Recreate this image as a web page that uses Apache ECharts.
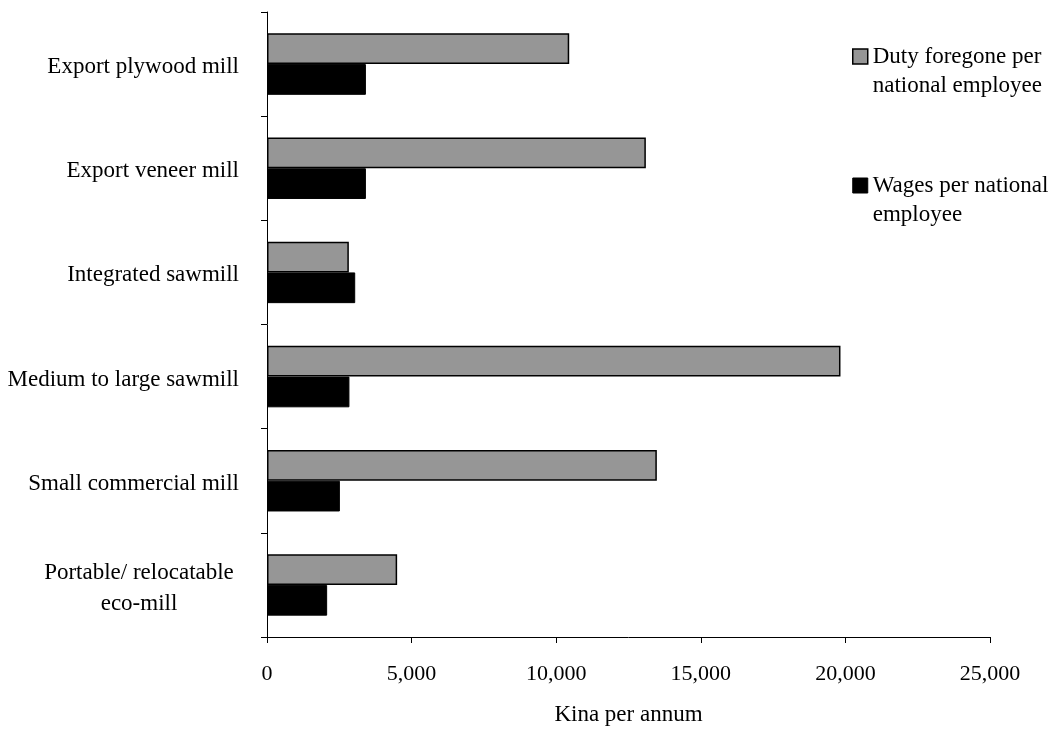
<!DOCTYPE html>
<html>
<head>
<meta charset="utf-8">
<script src="https://cdn.jsdelivr.net/npm/echarts@6/dist/echarts.min.js"></script>
<style>
  html, body { margin: 0; padding: 0; background: #fff; }
  #chart { width: 1054px; height: 731px; }
</style>
</head>
<body>
<div id="chart"></div>
<script>
// Mill types, listed top to bottom
const categories = [
  'Export plywood mill',
  'Export veneer mill',
  'Integrated sawmill',
  'Medium to large sawmill',
  'Small commercial mill',
  'Portable/ relocatable\neco-mill'
];
// Kina per annum per national employee
const dutyForegone = [10450, 13100, 2830, 19830, 13480, 4500];
const wages = [3420, 3420, 3050, 2850, 2520, 2080];
const xTicks = [0, 5000, 10000, 15000, 20000, 25000];

const seriesNames = ['Duty foregone per\nnational employee', 'Wages per national\nemployee'];
const serif = '"Liberation Serif", "DejaVu Serif", serif';
const FS = 23;

const chart = echarts.init(document.getElementById('chart'), null, { renderer: 'canvas' });

chart.setOption({
  animation: false,
  backgroundColor: '#ffffff',
  textStyle: { fontFamily: serif, color: '#000' },
  grid: { left: 267, right: 64, top: 12, bottom: 91, containLabel: false },
  legend: {
    orient: 'vertical',
    left: 852,
    top: 13,
    padding: 0,
    itemWidth: 15,
    itemHeight: 15,
    itemGap: 42,
    icon: 'rect',
    selectedMode: false,
    data: [
      { name: seriesNames[0], itemStyle: { color: '#969696', borderColor: '#000', borderWidth: 1.5 } },
      { name: seriesNames[1], itemStyle: { color: '#000', borderColor: '#000', borderWidth: 1 } }
    ],
    // a blank first line keeps the swatch level with the first line of each name
    formatter: name => ' \n' + name,
    textStyle: {
      fontFamily: serif,
      fontSize: FS,
      lineHeight: 29,
      color: '#000'
    }
  },
  xAxis: {
    type: 'value',
    min: xTicks[0],
    max: xTicks[xTicks.length - 1],
    interval: xTicks[1] - xTicks[0],
    name: 'Kina per annum',
    nameLocation: 'middle',
    nameGap: 66,
    nameTextStyle: { fontFamily: serif, fontSize: FS, color: '#000' },
    axisLine: { show: true, lineStyle: { color: '#000', width: 1 } },
    axisTick: { show: true, length: 6, lineStyle: { color: '#000' } },
    axisLabel: {
      margin: 26,
      fontFamily: serif,
      fontSize: 22,
      color: '#000',
      formatter: v => v.toLocaleString('en-US')
    },
    splitLine: { show: false }
  },
  yAxis: {
    type: 'category',
    inverse: true,
    data: categories,
    axisLine: { show: true, lineStyle: { color: '#000', width: 1 } },
    axisTick: { show: true, length: 6, lineStyle: { color: '#000' } },
    axisLabel: {
      margin: 28,
      fontFamily: serif,
      fontSize: FS,
      color: '#000',
      lineHeight: 33,
      padding: [6, 0, 0, 0],
      formatter: function (v) {
        if (v.indexOf('\n') >= 0) {
          const lines = v.split('\n');
          return '{c1|' + lines[0] + '}\n' + lines.slice(1).map(s => '{c|' + s + '}').join('\n');
        }
        return v;
      },
      rich: {
        c1: { fontFamily: serif, fontSize: FS, color: '#000', width: 200, align: 'center', lineHeight: 33, padding: [4, 0, 0, 0] },
        c: { fontFamily: serif, fontSize: FS, color: '#000', width: 200, align: 'center', lineHeight: 33 }
      }
    }
  },
  series: [
    {
      name: seriesNames[0],
      type: 'bar',
      data: dutyForegone,
      barGap: '0%',
      barCategoryGap: '41%',
      itemStyle: { color: '#969696', borderColor: '#000', borderWidth: 1.5 }
    },
    {
      name: seriesNames[1],
      type: 'bar',
      data: wages,
      itemStyle: { color: '#000', borderColor: '#000', borderWidth: 1 }
    }
  ]
});
</script>
</body>
</html>
